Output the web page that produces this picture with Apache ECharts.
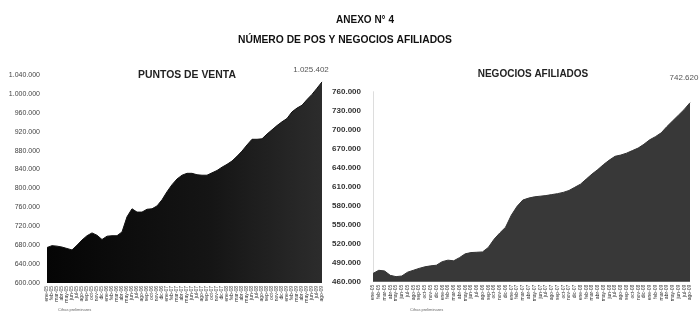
<!DOCTYPE html>
<html>
<head>
<meta charset="utf-8">
<script src="https://cdn.jsdelivr.net/npm/echarts@6/dist/echarts.min.js"></script>
<style>
  html, body { margin: 0; padding: 0; background: #fff; }
  #main { width: 700px; height: 316px; }
</style>
</head>
<body>
<div id="main"></div>
<script>
// meses (etiquetas del eje x)
const meses = ['ene', 'feb', 'mar', 'abr', 'may', 'jun', 'jul', 'ago', 'sep', 'oct', 'nov', 'dic']
const anioInicio = 5
const numMeses = 56

// puntos de venta (POS)
const puntosVenta = [
  675000, 679000, 678000, 676000, 673000, 670000, 680000, 691000, 700000, 706000,
  701000, 692000, 699000, 700000, 700000, 708000, 740000, 757000, 750000, 750000,
  756000, 757000, 763000, 776000, 793000, 808000, 820000, 828000, 832000, 832000,
  829000, 828000, 828000, 833000, 838000, 845000, 851000, 858000, 868000, 879000,
  892000, 904000, 904000, 905000, 915000, 924000, 933000, 941000, 948000, 962000,
  970000, 976000, 988000, 999000, 1012000, 1025402
]

// negocios afiliados
const negocios = [
  473000, 478000, 477000, 470000, 468000, 469000, 475000, 478000, 481000, 483500,
  485000, 486000, 491600, 494000, 493000, 498000, 504000, 506000, 506500, 507000,
  514000, 527000, 537000, 546000, 565000, 579000, 589000, 592000, 594000, 595000,
  596000, 597500, 599000, 601000, 604000, 609000, 614000, 622000, 630000, 637000,
  645000, 652000, 658000, 660000, 663000, 667000, 671000, 677000, 684000, 689000,
  695000, 705000, 714000, 723000, 732000, 742620
]

const etiquetas = []
for (let i = 0; i < numMeses; i++) {
  const y = anioInicio + Math.floor(i / 12)
  etiquetas.push(meses[i % 12] + '-' + (y < 10 ? '0' + y : y))
}

function fmt(v) {
  return String(v).replace(/\B(?=(\d{3})+(?!\d))/g, '.')
}

// etiqueta con el ultimo valor
function ultimo(arr, offset) {
  const i = arr.length - 1
  return {
    symbol: 'circle', symbolSize: 0,
    label: {
      show: true, position: 'top', offset: offset,
      formatter: function (p) { return fmt(p.value) },
      fontSize: 8, color: '#555', fontFamily: 'Liberation Sans'
    },
    data: [{ coord: [etiquetas[i], arr[i]], value: arr[i] }]
  }
}

const chart = echarts.init(document.getElementById('main'))

const ejeX = function (idx) {
  return {
    type: 'category', gridIndex: idx, data: etiquetas, boundaryGap: false,
    axisLine: { show: false }, axisTick: { show: false },
    axisLabel: { interval: 0, rotate: 90, fontSize: 5, color: '#333', margin: 3, fontFamily: 'Liberation Sans' }
  }
}

chart.setOption({
  animation: false,
  title: [
    { text: 'ANEXO N° 4', left: 360, top: 10, textAlign: 'center',
      textStyle: { fontSize: 10, fontWeight: 'bold', color: '#111', fontFamily: 'Liberation Sans' } },
    { text: 'NÚMERO DE POS Y NEGOCIOS AFILIADOS', left: 340, top: 30, textAlign: 'center',
      textStyle: { fontSize: 10.3, fontWeight: 'bold', color: '#111', fontFamily: 'Liberation Sans' } },
    { text: 'PUNTOS DE VENTA', left: 182, top: 65, textAlign: 'center',
      textStyle: { fontSize: 10.4, fontWeight: 'bold', color: '#222', fontFamily: 'Liberation Sans' } },
    { text: 'NEGOCIOS AFILIADOS', left: 528, top: 64, textAlign: 'center',
      textStyle: { fontSize: 10, fontWeight: 'bold', color: '#222', fontFamily: 'Liberation Sans' } }
  ],
  graphic: [
    { type: 'text', left: 58, top: 308, style: { text: 'Cifras preliminares', fontSize: 4, fill: '#666' } },
    { type: 'text', left: 410, top: 308, style: { text: 'Cifras preliminares', fontSize: 4, fill: '#666' } }
  ],
  grid: [
    { left: 47, right: 378, top: 75, bottom: 33 },
    { left: 373, right: 10, top: 91.7, bottom: 34.3 }
  ],
  xAxis: [ejeX(0), ejeX(1)],
  yAxis: [
    {
      type: 'value', gridIndex: 0, min: 600000, max: 1040000, interval: 40000,
      splitLine: { show: false }, axisLine: { show: false }, axisTick: { show: false },
      axisLabel: { fontSize: 7, color: '#444', margin: 7, formatter: fmt, fontFamily: 'Liberation Sans' }
    },
    {
      type: 'value', gridIndex: 1, min: 460000, max: 760000, interval: 30000,
      splitLine: { show: false }, axisTick: { show: false },
      axisLine: { show: true, lineStyle: { color: '#ddd', width: 1 } },
      axisLabel: { fontSize: 8, color: '#333', fontWeight: 'bold', margin: 12, formatter: fmt, fontFamily: 'Liberation Sans' }
    }
  ],
  series: [
    {
      name: 'Puntos de venta', type: 'line', xAxisIndex: 0, yAxisIndex: 0,
      data: puntosVenta,
      symbol: 'none',
      lineStyle: { width: 1, color: '#111' },
      areaStyle: {
        opacity: 1,
        color: new echarts.graphic.LinearGradient(0, 0, 1, 0, [
          { offset: 0, color: '#050505' },
          { offset: 0.6, color: '#151515' },
          { offset: 1, color: '#2c2c2c' }
        ])
      },
      markPoint: ultimo(puntosVenta, [-11, -3])
    },
    {
      name: 'Negocios afiliados', type: 'line', xAxisIndex: 1, yAxisIndex: 1,
      data: negocios,
      symbol: 'none',
      lineStyle: { width: 1, color: '#333' },
      areaStyle: { opacity: 1, color: '#383838' },
      markPoint: ultimo(negocios, [-6, -16])
    }
  ]
})
</script>
</body>
</html>
